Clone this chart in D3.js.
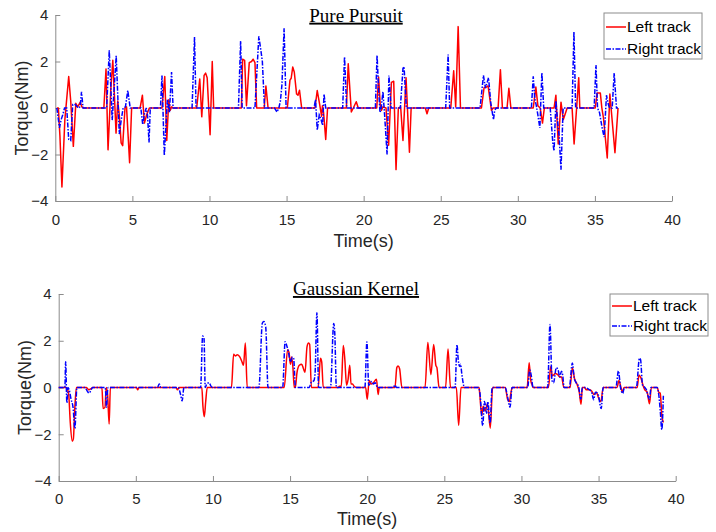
<!DOCTYPE html>
<html>
<head>
<meta charset="utf-8">
<script src="https://cdn.jsdelivr.net/npm/d3@7"></script>
<style>
  body { margin: 0; background: #fff; }
  svg { display: block; }
</style>
</head>
<body>
<div id="chart"></div>
<script>
// Pure Pursuit torque, [time s, torque Nm]
const ppLeft = [
  [0.1,0],[0.2,0],[0.3,-1.2],[0.43,-3.4],[0.62,-0.5],[0.87,1.35],[1.0,0.3],[1.17,-1.65],[1.33,0.2],[1.45,0.05],[1.62,0.25],[1.72,0.05],[1.85,0],
  [3.15,0],[3.29,1.68],[3.42,-1.8],[3.6,0.8],[3.73,2.05],[3.83,0.6],[3.94,-1.08],[4.05,0.3],[4.15,-0.3],[4.27,-1.5],[4.37,-1.62],[4.52,0],[4.62,0.05],[4.82,-2.35],[4.95,0],
  [5.5,0],[5.65,0.55],[5.78,-0.65],[5.92,-0.3],[6.1,0],
  [6.92,0],[7.1,1.35],[7.23,-1.4],[7.36,0.35],[7.45,-0.1],[7.55,0.05],[7.64,0],
  [9.17,0],[9.37,1.25],[9.5,-0.38],[9.65,1.4],[9.75,1.5],[9.85,1.3],[10.04,-1.15],[10.18,2.0],[10.27,0],
  [12.07,0],[12.15,2.1],[12.28,2.05],[12.4,0.1],[12.58,1.95],[12.73,2.0],[12.83,2.1],[12.95,1.95],[13.06,0],
  [13.55,0],[13.66,0.95],[13.8,0],
  [15.05,0],[15.22,1.2],[15.3,1.28],[15.4,1.76],[15.5,1.55],[15.65,0.6],[15.74,0.55],[15.84,0.76],[15.98,0],
  [16.84,0],[16.99,0.75],[17.15,0.15],[17.27,-0.35],[17.33,0.1],[17.4,-0.2],[17.54,-1.35],[17.66,0],
  [18.88,0],[19.0,1.9],[19.2,-0.17],[19.33,0],[19.52,0.27],[19.65,0],
  [20.85,0],[20.97,1.33],[21.08,0.1],[21.15,-0.1],[21.25,0.05],[21.45,0],[21.62,-1.6],[21.8,1.1],[21.95,1.15],[22.1,-2.65],[22.25,0],[22.4,0.05],[22.55,-1.4],[22.75,1.3],[22.97,-1.9],[23.08,0],
  [24.0,0],[24.11,-0.25],[24.22,0],
  [25.65,0],[25.84,1.6],[25.97,0.05],[26.13,3.5],[26.28,0],
  [27.64,0],[27.81,0.87],[27.95,0.9],[28.07,0.95],[28.29,-0.1],[28.4,0],
  [28.72,0],[28.87,1.65],[29.0,0],
  [29.3,0],[29.42,0.85],[29.55,0],
  [31.0,0],[31.17,0.9],[31.3,0.1],[31.45,0],[31.6,-0.65],[31.72,0],
  [32.35,0],[32.47,0.55],[32.62,-1.55],[32.8,0.25],[32.95,-0.5],[33.05,-0.3],[33.2,0],
  [33.52,0],[33.65,-1.55],[33.95,1.3],[34.02,0],
  [35.02,0],[35.15,0.65],[35.35,0.65],[35.45,0],[35.55,-0.4],[35.8,-2.15],[35.97,0.6],[36.3,-1.92],[36.5,0]
];
const ppRight = [
  [0.1,0],[0.27,-0.85],[0.38,-0.5],[0.48,-0.3],[0.6,0],[0.74,0],[0.87,-1.35],[1.0,-1.4],[1.13,0.15],[1.3,0.15],[1.42,0.05],[1.55,0],[1.62,0.1],[1.7,0.7],[1.8,0],
  [3.33,0],[3.5,2.48],[3.69,-0.52],[3.95,2.25],[4.15,-1.12],[4.28,-0.5],[4.4,0],[4.55,0.05],[4.7,0.75],[4.86,0],
  [5.55,0],[5.67,-0.72],[5.78,-0.25],[5.9,0],[5.98,-0.3],[6.08,-1.48],[6.16,0],
  [6.82,0],[6.92,1.4],[7.07,-2.05],[7.27,0.37],[7.4,-0.2],[7.54,1.55],[7.64,0],
  [8.87,0],[9.03,3.05],[9.13,0],
  [11.88,0],[12.02,2.88],[12.12,0],
  [12.95,0],[13.2,3.08],[13.33,2.5],[13.43,2.0],[13.57,0],
  [14.22,0],[14.38,-0.17],[14.5,0],[14.6,0.3],[14.7,1.0],[14.84,3.43],[14.97,0],
  [16.78,0],[16.88,0.36],[16.99,-0.95],[17.12,-0.3],[17.22,-0.45],[17.34,-0.75],[17.43,0.6],[17.54,0],
  [18.64,0],[18.76,2.2],[18.9,0],
  [20.76,0],[20.87,2.27],[20.97,0.8],[21.06,-0.2],[21.13,-0.05],[21.25,0.7],[21.36,-0.3],[21.52,-2.0],[21.64,1.4],[21.78,0],
  [22.38,0],[22.55,1.7],[22.62,1.78],[22.77,0],
  [25.32,0],[25.48,2.3],[25.58,0],
  [27.55,0],[27.77,1.4],[27.9,0.85],[28.1,1.3],[28.25,0.2],[28.42,-0.5],[28.5,-0.1],[28.6,0],
  [30.88,0],[31.0,1.36],[31.1,0.4],[31.2,0.1],[31.3,-0.3],[31.43,-0.86],[31.56,1.53],[31.68,0],
  [32.1,0],[32.27,-1.5],[32.35,-1.85],[32.47,0.3],[32.6,-0.7],[32.68,-1.2],[32.8,-2.65],[32.94,0],
  [33.52,0],[33.64,3.28],[33.75,0],
  [34.95,0],[35.07,1.85],[35.17,0],[35.3,-0.2],[35.48,-0.9],[35.6,-1.25],[35.75,0.55],[35.85,0.2],[35.95,0],[36.12,0],[36.25,1.5],[36.4,0],[36.5,0]
];

// Gaussian Kernel torque, [time s, torque Nm]
const gkLeft = [
  [0,0],[0.5,0],[0.58,-0.1],[0.65,-0.3],[0.75,-1.5],[0.88,-2.3],[0.95,-2.2],[1.05,-0.8],[1.15,0],
  [1.8,0],[1.95,-0.1],[2.1,-0.05],[2.2,0],
  [2.8,0],[2.88,-0.9],[3.0,-0.85],[3.08,0],[3.17,-0.3],[3.27,-1.56],[3.35,0],
  [5.05,0],[5.12,-0.1],[5.2,0],
  [7.6,0],[7.7,-0.1],[7.8,0],
  [9.28,0],[9.35,-0.8],[9.44,-1.25],[9.53,-0.6],[9.63,0],
  [11.2,0],[11.34,1.42],[11.45,1.35],[11.58,1.4],[11.75,1.3],[11.88,1.1],[11.98,0.95],[12.1,1.9],[12.22,0],
  [14.62,0],[14.84,1.62],[14.93,1.5],[15.02,1.0],[15.1,1.3],[15.18,0.9],[15.27,0],[15.35,0.05],[15.45,0.65],[15.6,0.95],[15.75,1.0],[15.87,0.8],[15.97,0.65],[16.1,1.75],[16.2,1.9],[16.27,1.85],[16.38,0],
  [16.82,0],[16.97,1.25],[17.05,1.1],[17.15,0],
  [18.1,0],[18.2,0.05],[18.32,0.05],[18.45,1.8],[18.55,1.2],[18.66,0.1],[18.75,0.3],[18.87,0.95],[18.95,0.15],[19.05,0.15],[19.15,0.05],[19.3,0],
  [19.9,0],[20.0,-0.5],[20.13,0.3],[20.25,0.15],[20.4,0.2],[20.6,0.35],[20.71,-0.3],[20.78,0],
  [21.8,0],[21.92,0.85],[22.0,0.92],[22.1,0.8],[22.25,0],
  [23.75,0],[23.93,1.93],[24.13,0.55],[24.31,1.84],[24.45,0.95],[24.52,0.85],[24.66,0],
  [25.08,0],[25.24,1.65],[25.4,0],
  [25.78,0],[25.93,-1.62],[26.08,0],
  [27.25,0],[27.3,-0.3],[27.42,-1.2],[27.52,-0.8],[27.65,-1.0],[27.8,-0.7],[27.98,-1.74],[28.13,0],
  [28.95,0],[29.1,-0.5],[29.22,-0.6],[29.3,-0.3],[29.4,0],
  [30.37,0],[30.5,1.06],[30.6,0.3],[30.7,0.1],[30.75,0],
  [31.75,0],[31.9,0.9],[32.0,0.5],[32.2,0.6],[32.35,0.55],[32.5,0.45],[32.6,0.45],[32.75,0],
  [33.15,0],[33.3,0.85],[33.45,0.35],[33.6,0.15],[33.75,-0.2],[33.86,-0.72],[33.95,0],
  [34.1,0],[34.2,-0.1],[34.4,-0.1],[34.55,-0.15],[34.7,-0.3],[34.85,-0.2],[35.0,-0.45],[35.15,-0.6],[35.3,0],
  [36.2,0],[36.32,0.3],[36.45,0],[36.55,-0.2],[36.65,0],
  [37.5,0],[37.62,0.53],[37.75,0.4],[37.9,0.05],[38.0,-0.1],[38.15,-0.2],[38.3,-0.7],[38.42,0],
  [38.8,0],[38.9,-0.2],[39.0,-0.25],[39.1,-1.2],[39.2,-1.5]
];
const gkRight = [
  [0,0],[0.4,0],[0.45,1.1],[0.53,-0.65],[0.6,0],[0.68,-0.1],[0.8,-0.5],[0.93,-0.85],[1.05,-1.75],[1.18,0],
  [1.7,0],[1.85,-0.15],[1.97,-0.24],[2.1,-0.1],[2.2,0],
  [3.02,0],[3.1,-0.85],[3.16,-0.2],[3.2,0],
  [6.4,0],[6.52,0.15],[6.62,0],
  [7.75,0],[7.9,-0.3],[8.0,-0.57],[8.12,0],
  [9.2,0],[9.33,2.2],[9.42,2.1],[9.5,0],[9.6,0.15],[9.75,0.2],[9.88,0.05],[9.95,0],
  [12.98,0],[13.2,2.75],[13.3,2.82],[13.42,2.6],[13.57,0],
  [14.52,0],[14.68,1.96],[14.78,1.8],[14.9,1.5],[15.02,1.1],[15.15,1.3],[15.23,1.25],[15.35,0],
  [16.25,0],[16.35,0.2],[16.55,0.3],[16.62,0.6],[16.74,3.2],[16.85,0],
  [17.62,0],[17.83,2.74],[17.9,2.3],[18.0,0],
  [19.85,0],[19.98,1.95],[20.1,0.1],[20.3,0.26],[20.4,0.15],[20.52,0.2],[20.67,0],
  [21.7,0],[21.8,0.1],[21.9,0],
  [25.7,0],[25.82,1.84],[25.9,1.2],[25.98,0.9],[26.05,1.0],[26.13,0.6],[26.22,0.2],[26.3,0],
  [27.2,0],[27.3,-0.2],[27.49,-1.63],[27.6,-0.6],[27.75,-1.1],[27.82,-0.6],[27.97,-1.52],[28.1,0],
  [28.95,0],[29.1,-0.4],[29.26,-0.84],[29.39,0],
  [30.4,0],[30.54,0.75],[30.64,0.5],[30.75,0],
  [31.7,0],[31.85,2.7],[31.98,0.3],[32.08,0.2],[32.26,0.85],[32.38,0.75],[32.48,0.45],[32.59,0.7],[32.68,0.5],[32.76,0],
  [33.1,0],[33.3,1.05],[33.42,0.4],[33.55,0.2],[33.7,0.05],[33.85,-0.5],[33.95,0],
  [34.1,0],[34.3,-0.05],[34.55,-0.2],[34.68,-0.52],[34.8,-0.2],[34.95,-0.25],[35.17,-0.9],[35.3,0],
  [36.12,0],[36.29,0.71],[36.42,0],[36.57,-0.25],[36.65,-0.05],[36.8,0],
  [37.45,0],[37.65,1.25],[37.72,1.2],[37.85,0.1],[38.0,0],[38.1,-0.1],[38.2,-0.35],[38.3,-0.5],[38.4,0],
  [38.8,0],[38.9,-0.3],[39.0,-1.0],[39.1,-1.8],[39.2,-0.35]
];

const xTicks = [0, 5, 10, 15, 20, 25, 30, 35, 40];
const yTicks = [-4, -2, 0, 2, 4];
const seriesNames = ["Left track", "Right track"];

const width = 716, height = 532;
const axisColor = "#8c8c8c", textColor = "#262626";
const sans = "'Liberation Sans', Arial, sans-serif";
const dashDot = "5,1.5,1.5,1.5";

const svg = d3.select("#chart")
    .append("svg")
    .attr("width", width)
    .attr("height", height);

function drawPanel(cfg) {
    const x = d3.scaleLinear().domain([0, 40]).range([cfg.left, cfg.right]);
    const y = d3.scaleLinear().domain([-4, 4]).range([cfg.bottom, cfg.top]);

    const xAxis = svg.append("g")
        .attr("transform", `translate(0,${cfg.bottom})`)
        .call(d3.axisBottom(x).tickValues(xTicks).tickSizeInner(-5).tickSizeOuter(0).tickPadding(cfg.xPad));
    const yAxis = svg.append("g")
        .attr("transform", `translate(${cfg.left},0)`)
        .call(d3.axisLeft(y).tickValues(yTicks).tickSizeInner(-5).tickSizeOuter(0).tickPadding(7));

    [xAxis, yAxis].forEach(g => {
        g.select(".domain").attr("stroke", axisColor);
        g.selectAll(".tick line").attr("stroke", axisColor);
        g.selectAll("text")
            .style("font-family", sans)
            .style("font-size", "15px")
            .attr("fill", textColor);
    });

    const line = d3.line()
        .x(d => x(d[0]))
        .y(d => y(d[1]))
        .curve(cfg.curve);

    svg.append("path")
        .datum(cfg.left_)
        .attr("fill", "none")
        .attr("stroke", "#ff0000")
        .attr("stroke-width", 1.5)
        .attr("stroke-linejoin", "round")
        .attr("d", line);

    svg.append("path")
        .datum(cfg.right_)
        .attr("fill", "none")
        .attr("stroke", "#0000ff")
        .attr("stroke-width", 1.5)
        .attr("stroke-dasharray", dashDot)
        .attr("d", line);

    svg.append("text")
        .attr("x", 356)
        .attr("y", cfg.titleY)
        .attr("text-anchor", "middle")
        .style("font-family", "'Liberation Serif', 'Times New Roman', serif")
        .style("font-size", "19px")
        .style("text-decoration", "underline")
        .attr("fill", "#000")
        .text(cfg.title);

    svg.append("text")
        .attr("transform", `translate(${cfg.yLabelX},${(cfg.top + cfg.bottom) / 2}) rotate(-90)`)
        .attr("text-anchor", "middle")
        .style("font-family", sans)
        .style("font-size", "18px")
        .attr("fill", textColor)
        .text("Torque(Nm)");

    svg.append("text")
        .attr("x", (cfg.left + cfg.right) / 2)
        .attr("y", cfg.xLabelY)
        .attr("text-anchor", "middle")
        .style("font-family", sans)
        .style("font-size", "18px")
        .attr("fill", textColor)
        .text("Time(s)");

    // legend
    const lg = cfg.legend;
    svg.append("rect")
        .attr("x", lg.x).attr("y", lg.y)
        .attr("width", lg.w).attr("height", lg.h)
        .attr("fill", "#fff")
        .attr("stroke", axisColor);
    const styles = [
        { color: "#ff0000", dash: null },
        { color: "#0000ff", dash: dashDot }
    ];
    seriesNames.forEach((name, i) => {
        const ly = lg.y + lg.row0 + i * lg.step;
        svg.append("line")
            .attr("x1", lg.x + 2).attr("x2", lg.x + 22)
            .attr("y1", ly).attr("y2", ly)
            .attr("stroke", styles[i].color)
            .attr("stroke-width", 1.5)
            .attr("stroke-dasharray", styles[i].dash);
        svg.append("text")
            .attr("x", lg.x + 23)
            .attr("y", ly + 5)
            .style("font-family", sans)
            .style("font-size", "15.5px")
            .attr("fill", "#000")
            .text(name);
    });
}

drawPanel({
    left: 55.3, right: 672, top: 15, bottom: 201,
    xPad: 13.5, titleY: 21.7, yLabelX: 28, xLabelY: 247,
    title: "Pure Pursuit",
    left_: ppLeft, right_: ppRight,
    curve: d3.curveLinear,
    legend: { x: 604, y: 13, w: 98, h: 46, row0: 14, step: 22 }
});

drawPanel({
    left: 58.7, right: 675.7, top: 294, bottom: 481,
    xPad: 12, titleY: 295, yLabelX: 31, xLabelY: 525,
    title: "Gaussian Kernel",
    left_: gkLeft, right_: gkRight,
    curve: d3.curveMonotoneX,
    legend: { x: 610, y: 294, w: 98, h: 42, row0: 12, step: 20 }
});
</script>
</body>
</html>
